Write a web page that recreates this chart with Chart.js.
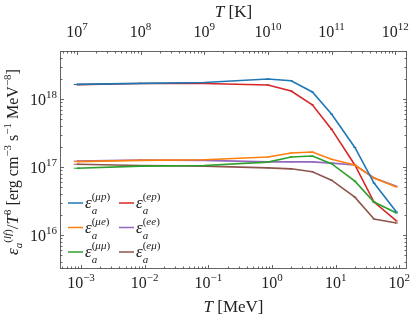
<!DOCTYPE html>
<html>
<head>
<meta charset="utf-8">
<script src="https://cdn.jsdelivr.net/npm/chart.js@4/dist/chart.umd.min.js"></script>
<style>
  html, body { margin: 0; padding: 0; background: #fff; }
  canvas { display: block; }
</style>
</head>
<body>
<canvas id="chart" width="415" height="322"></canvas>
<script>
// temperatures in MeV (the top axis shows the same points in K)
const temps = [0.00086, 0.0086, 0.086, 0.86, 2.0, 4.3, 8.6, 20, 40, 90];

const epsMuP = [1.64e18, 1.70e18, 1.75e18, 1.97e18, 1.86e18, 1.27e18, 6.0e17, 1.94e17, 5.8e16, 2.18e16];
const epsMuE = [1.20e17, 1.25e17, 1.28e17, 1.40e17, 1.61e17, 1.66e17, 1.30e17, 1.07e17, 6.9e16, 5.1e16];
const epsMuMu = [9.6e16, 1.03e17, 1.05e17, 1.18e17, 1.40e17, 1.45e17, 1.12e17, 6.2e16, 3.05e16, 2.11e16];
const epsEP = [1.63e18, 1.69e18, 1.69e18, 1.61e18, 1.31e18, 8.2e17, 3.6e17, 1.07e17, 3.05e16, 1.61e16];
const epsEE = [1.22e17, 1.27e17, 1.25e17, 1.19e17, 1.19e17, 1.19e17, 1.14e17, 1.07e17, 6.9e16, 5.2e16];
const epsEMu = [1.10e17, 1.05e17, 1.03e17, 9.7e16, 9.4e16, 8.5e16, 6.4e16, 3.6e16, 1.72e16, 1.50e16];

const seriesData = [epsMuP, epsMuE, epsMuMu, epsEP, epsEE, epsEMu];
const seriesTags = ["μp", "μe", "μμ", "ep", "ee", "eμ"];
const seriesColors = ["#1f77b4", "#ff7f0e", "#2ca02c", "#d62728", "#9467bd", "#8c564b"];

const xTickExps = [-3, -2, -1, 0, 1, 2];
const kTickExps = [7, 8, 9, 10, 11, 12];
const yTickExps = [16, 17, 18];
const MEV_TO_K = 1.1605e10;

const SERIF = '"Liberation Serif", "DejaVu Serif", serif';
const AXIS_COLOR = "#555";

function fnt(size, italic) {
  return (italic ? "italic " : "") + size + "px " + SERIF;
}

// draws a run of text pieces: {t, s (size), i (italic), dy}
function rich(ctx, parts, x, y, align) {
  let w = 0;
  parts.forEach(p => {
    ctx.font = fnt(p.s, p.i);
    p.w = ctx.measureText(p.t).width;
    w += p.w;
  });
  let cx = align === "center" ? x - w / 2 : (align === "right" ? x - w : x);
  ctx.textAlign = "left";
  ctx.textBaseline = "alphabetic";
  parts.forEach(p => {
    ctx.font = fnt(p.s, p.i);
    ctx.fillText(p.t, cx, y + (p.dy || 0));
    cx += p.w;
  });
}

function powLabel(exp) {
  const e = exp < 0 ? "\u2212" + Math.abs(exp) : String(exp);
  return [{ t: "10", s: 16 }, { t: e, s: 11, dy: -7 }];
}

const decorPlugin = {
  id: "decor",
  afterDraw(chart) {
    const ctx = chart.ctx;
    const a = chart.chartArea;
    const xs = chart.scales.x;
    const ys = chart.scales.y;
    ctx.save();

    // frame
    ctx.strokeStyle = AXIS_COLOR;
    ctx.lineWidth = 0.9;
    ctx.strokeRect(a.left + 0.5, a.top + 0.5, a.right - a.left - 1, a.bottom - a.top - 1);

    // inward log ticks
    ctx.beginPath();
    const xMinL = Math.log10(xs.min), xMaxL = Math.log10(xs.max);
    for (let d = Math.floor(xMinL); d <= Math.ceil(xMaxL); d++) {
      for (let m = 1; m <= 9; m++) {
        const v = m * Math.pow(10, d);
        if (v >= xs.min && v <= xs.max) {
          const px = Math.round(xs.getPixelForValue(v)) + 0.5;
          const len = m === 1 ? 4 : 2.5;
          ctx.moveTo(px, a.bottom); ctx.lineTo(px, a.bottom - len);
        }
      }
    }
    const kMin = xs.min * MEV_TO_K, kMax = xs.max * MEV_TO_K;
    for (let d = Math.floor(Math.log10(kMin)); d <= Math.ceil(Math.log10(kMax)); d++) {
      for (let m = 1; m <= 9; m++) {
        const v = m * Math.pow(10, d);
        if (v >= kMin && v <= kMax) {
          const px = Math.round(xs.getPixelForValue(v / MEV_TO_K)) + 0.5;
          const len = m === 1 ? 4 : 2.5;
          ctx.moveTo(px, a.top); ctx.lineTo(px, a.top + len);
        }
      }
    }
    for (let d = Math.floor(Math.log10(ys.min)); d <= Math.ceil(Math.log10(ys.max)); d++) {
      for (let m = 1; m <= 9; m++) {
        const v = m * Math.pow(10, d);
        if (v >= ys.min && v <= ys.max) {
          const py = Math.round(ys.getPixelForValue(v)) + 0.5;
          const len = m === 1 ? 4 : 2.5;
          ctx.moveTo(a.left, py); ctx.lineTo(a.left + len, py);
          ctx.moveTo(a.right, py); ctx.lineTo(a.right - len, py);
        }
      }
    }
    ctx.stroke();

    // tick labels
    ctx.fillStyle = "#222";
    xTickExps.forEach(e => {
      rich(ctx, powLabel(e), xs.getPixelForValue(Math.pow(10, e)), a.bottom + 19, "center");
    });
    kTickExps.forEach(e => {
      rich(ctx, powLabel(e), xs.getPixelForValue(Math.pow(10, e) / MEV_TO_K), a.top - 14, "center");
    });
    yTickExps.forEach(e => {
      rich(ctx, powLabel(e), a.left - 3, ys.getPixelForValue(Math.pow(10, e)) + 6, "right");
    });

    // axis titles
    const midX = (a.left + a.right) / 2;
    rich(ctx, [{ t: "T", s: 17, i: true }, { t: " [MeV]", s: 17 }], midX, a.bottom + 43, "center");
    rich(ctx, [{ t: "T", s: 17, i: true }, { t: " [K]", s: 17 }], midX, 17, "center");

    ctx.save();
    ctx.translate(18, (a.top + a.bottom) / 2 + 2);
    ctx.rotate(-Math.PI / 2);
    rich(ctx, [
      { t: "ε", s: 17, i: true },
      { t: "a", s: 11, i: true, dy: 4 },
      { t: "(", s: 11, dy: -7 }, { t: "lf", s: 11, i: true, dy: -7 }, { t: ")", s: 11, dy: -7 },
      { t: "/", s: 17 }, { t: "T", s: 17, i: true }, { t: "8", s: 11, dy: -7 },
      { t: " [erg cm", s: 16 }, { t: "\u22123", s: 11, dy: -7 },
      { t: " s", s: 16 }, { t: "\u22121", s: 11, dy: -7 },
      { t: " MeV", s: 16 }, { t: "\u22128", s: 11, dy: -7 },
      { t: "]", s: 16 }
    ], 0, 0, "center");
    ctx.restore();

    // legend, two columns filled column by column
    const rowGap = 24.5;
    const colGap = 51;
    chart.data.datasets.forEach((ds, i) => {
      const col = Math.floor(i / 3), row = i % 3;
      const lx = a.left + 8 + col * colGap;
      const ly = a.bottom - 66 + row * rowGap;
      ctx.strokeStyle = ds.borderColor;
      ctx.lineWidth = 1.5;
      ctx.beginPath();
      ctx.moveTo(lx, ly); ctx.lineTo(lx + 15, ly);
      ctx.stroke();
      ctx.fillStyle = "#222";
      const tx = lx + 17;
      ctx.font = fnt(17, true);
      ctx.textAlign = "left";
      ctx.fillText("ε", tx, ly + 5);
      const ew = ctx.measureText("ε").width;
      ctx.font = fnt(11, true);
      ctx.fillText("a", tx + ew, ly + 11);
      rich(ctx, [{ t: "(", s: 11 }, { t: seriesTags[i], s: 11, i: true }, { t: ")", s: 11 }], tx + ew, ly - 3, "left");
    });

    ctx.restore();
  }
};

const datasets = seriesData.map((vals, i) => ({
  label: "ε_a^(" + seriesTags[i] + ")",
  data: temps.map((t, j) => ({ x: t, y: vals[j] })),
  borderColor: seriesColors[i],
  backgroundColor: seriesColors[i],
  borderWidth: 1.6,
  pointStyle: "line",
  pointRadius: temps.map((t, j) => j === 0 ? 3 : 1.5),
  pointBorderWidth: 1,
  tension: 0,
  fill: false
}));

new Chart(document.getElementById("chart"), {
  type: "line",
  data: { datasets },
  options: {
    responsive: false,
    animation: false,
    layout: { padding: { left: 60, top: 51, right: 8, bottom: 53 } },
    plugins: { legend: { display: false }, tooltip: { enabled: false } },
    scales: {
      x: {
        type: "logarithmic",
        display: false,
        min: Math.pow(10, -3.33),
        max: Math.pow(10, 2.12)
      },
      y: {
        type: "logarithmic",
        display: false,
        min: Math.pow(10, 15.5),
        max: Math.pow(10, 18.706)
      }
    }
  },
  plugins: [decorPlugin]
});
</script>
</body>
</html>
